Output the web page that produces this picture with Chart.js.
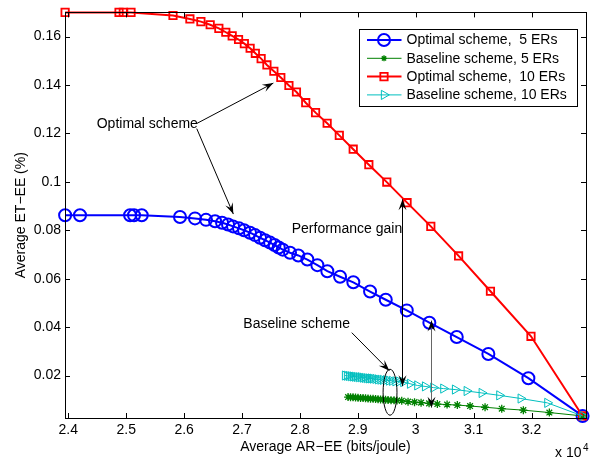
<!DOCTYPE html>
<html><head><meta charset="utf-8">
<script src="https://cdn.jsdelivr.net/npm/chart.js@4.4.1/dist/chart.umd.min.js"></script>
<style>html,body{margin:0;padding:0;background:#fff;} canvas{display:block;}</style>
</head><body>
<canvas id="c" width="597" height="460"></canvas>
<script>
const FONT = '"Liberation Sans", Arial, Helvetica, sans-serif';
const FS = 14;

const xTicks = [2.4, 2.5, 2.6, 2.7, 2.8, 2.9, 3.0, 3.1, 3.2];
const xTickLabels = ['2.4', '2.5', '2.6', '2.7', '2.8', '2.9', '3', '3.1', '3.2'];
const yTicks = [0.02, 0.04, 0.06, 0.08, 0.10, 0.12, 0.14, 0.16];
const yTickLabels = ['0.02', '0.04', '0.06', '0.08', '0.1', '0.12', '0.14', '0.16'];
const xRange = [2.3943, 3.294];
const yRange = [0.00245, 0.17];

const seriesNames = ['Optimal scheme,  5 ERs', 'Baseline scheme, 5 ERs', 'Optimal scheme,  10 ERs', 'Baseline scheme, 10 ERs'];

// Optimal scheme, 5 ERs
const opt5X = [2.3945, 2.4202, 2.5067, 2.5135, 2.5268, 2.5929, 2.6188, 2.6378, 2.6534, 2.6655, 2.6758, 2.6845, 2.6948, 2.7035, 2.7138, 2.7225, 2.7311, 2.7397, 2.7484, 2.7562, 2.7634, 2.7703, 2.7829, 2.7972, 2.8128, 2.8301, 2.8473, 2.8693, 2.8922, 2.9211, 2.9482, 2.9845, 3.0235, 3.0708, 3.1254, 3.1945, 3.2881];
const opt5Y = [0.0862, 0.0862, 0.0862, 0.0862, 0.0862, 0.0855, 0.0849, 0.0843, 0.0837, 0.0831, 0.0824, 0.0816, 0.0808, 0.0800, 0.0790, 0.0780, 0.0769, 0.0759, 0.0749, 0.0739, 0.0729, 0.0720, 0.0707, 0.0696, 0.0679, 0.0656, 0.0631, 0.0608, 0.0585, 0.0547, 0.0513, 0.0469, 0.0418, 0.0359, 0.0289, 0.0189, 0.0033];

// Baseline scheme, 5 ERs
const base5X = [2.8831, 2.8874, 2.8917, 2.8960, 2.9003, 2.9047, 2.9090, 2.9133, 2.9176, 2.9219, 2.9263, 2.9306, 2.9349, 2.9392, 2.9435, 2.9478, 2.9522, 2.9573, 2.9625, 2.9677, 2.9758, 2.9867, 2.9979, 3.0092, 3.0230, 3.0373, 3.0541, 3.0718, 3.0938, 3.1197, 3.1485, 3.1858, 3.2307, 3.2881];
const base5Y = [0.0111, 0.0110, 0.0110, 0.0109, 0.0108, 0.0107, 0.0107, 0.0106, 0.0105, 0.0104, 0.0104, 0.0103, 0.0102, 0.0101, 0.0101, 0.0100, 0.0099, 0.0098, 0.0098, 0.0097, 0.0096, 0.0092, 0.0090, 0.0088, 0.0085, 0.0082, 0.0080, 0.0078, 0.0074, 0.0069, 0.0063, 0.0057, 0.0047, 0.0033];

// Optimal scheme, 10 ERs
const opt10X = [2.3945, 2.4876, 2.4950, 2.5083, 2.5808, 2.6100, 2.6290, 2.6450, 2.6600, 2.6720, 2.6830, 2.6940, 2.7040, 2.7140, 2.7230, 2.7330, 2.7430, 2.7550, 2.7670, 2.7810, 2.7940, 2.8100, 2.8270, 2.8470, 2.8680, 2.8920, 2.9190, 2.9500, 2.9850, 3.0260, 3.0740, 3.1290, 3.1990, 3.2881];
const opt10Y = [0.1700, 0.1700, 0.1700, 0.1700, 0.1687, 0.1673, 0.1662, 0.1649, 0.1634, 0.1618, 0.1603, 0.1588, 0.1571, 0.1552, 0.1531, 0.1509, 0.1483, 0.1457, 0.1431, 0.1398, 0.1371, 0.1327, 0.1286, 0.1242, 0.1192, 0.1135, 0.1071, 0.0999, 0.0914, 0.0816, 0.0694, 0.0548, 0.0362, 0.0033];

// Baseline scheme, 10 ERs
const base10X = [2.8779, 2.8813, 2.8848, 2.8883, 2.8917, 2.8952, 2.8986, 2.9021, 2.9055, 2.9090, 2.9124, 2.9159, 2.9194, 2.9228, 2.9263, 2.9306, 2.9349, 2.9392, 2.9435, 2.9487, 2.9539, 2.9591, 2.9651, 2.9712, 2.9786, 2.9902, 3.0028, 3.0161, 3.0304, 3.0477, 3.0679, 3.0881, 3.1140, 3.1444, 3.1813, 3.2273, 3.2881];
const base10Y = [0.0200, 0.0199, 0.0198, 0.0197, 0.0196, 0.0195, 0.0194, 0.0193, 0.0193, 0.0191, 0.0190, 0.0189, 0.0188, 0.0188, 0.0187, 0.0186, 0.0184, 0.0183, 0.0182, 0.0181, 0.0179, 0.0178, 0.0176, 0.0175, 0.0173, 0.0166, 0.0159, 0.0155, 0.0150, 0.0146, 0.0142, 0.0136, 0.0128, 0.0118, 0.0105, 0.0087, 0.0033];

// annotation anchors (data coordinates)
const optTextPos = [2.4491, 0.1237];
const optArrows = [[2.6218, 0.1241, 2.7541, 0.1408], [2.6218, 0.1220, 2.6850, 0.0867]];
const gainTextPos = [2.7858, 0.0805];
const gainArrows = [[2.9758, 0.0928, 0.0156, '#000'], [3.0264, 0.0427, 0.0067, '#666']];
const baseTextPos = [2.7022, 0.0411];
const baseArrow = [2.8895, 0.0377, 2.9544, 0.0220];
const ellipseAt = [2.9556, 0.0131, 0.0120, 0.0095];

const BLUE = '#0000ff', GREEN = '#008000', RED = '#ff0000', CYAN = '#00bfbf';

function pts(xs, ys) { return xs.map((x, i) => ({x: x, y: ys[i]})); }

const styles = [
  {color: BLUE, lw: 2, style: 'circle', r: 6, pbw: 2},
  {color: GREEN, lw: 1, style: 'star', r: 4, pbw: 1.3},
  {color: RED, lw: 2, style: 'rect', r: 5.2, pbw: 1.8},
  {color: CYAN, lw: 1, style: 'triangle', r: 5.3, pbw: 1, rot: 90}
];
const allData = [pts(opt5X, opt5Y), pts(base5X, base5Y), pts(opt10X, opt10Y), pts(base10X, base10Y)];
const orders = [3, 2, 1, 0];

const datasets = allData.map((d, i) => ({
  label: seriesNames[i],
  data: d,
  borderColor: styles[i].color,
  borderWidth: styles[i].lw,
  pointStyle: styles[i].style,
  pointRadius: styles[i].r,
  pointBorderWidth: styles[i].pbw,
  pointBorderColor: styles[i].color,
  pointBackgroundColor: 'rgba(0,0,0,0)',
  pointRotation: styles[i].rot || 0,
  fill: false,
  tension: 0,
  clip: false,
  order: orders[i]
}));

function arrowHead(ctx, x1, y1, x2, y2, len, w) {
  const dx = x2 - x1, dy = y2 - y1;
  const L = Math.hypot(dx, dy) || 1;
  const ux = dx / L, uy = dy / L, nx = -uy, ny = ux;
  ctx.beginPath();
  ctx.moveTo(x2, y2);
  ctx.lineTo(x2 - len * ux + w * nx, y2 - len * uy + w * ny);
  ctx.lineTo(x2 - 0.6 * len * ux, y2 - 0.6 * len * uy);
  ctx.lineTo(x2 - len * ux - w * nx, y2 - len * uy - w * ny);
  ctx.closePath();
  ctx.fill();
}
function arrow(ctx, x1, y1, x2, y2, color) {
  ctx.strokeStyle = color || '#000';
  ctx.lineWidth = 1;
  ctx.beginPath(); ctx.moveTo(x1, y1); ctx.lineTo(x2, y2); ctx.stroke();
  ctx.fillStyle = '#000';
  arrowHead(ctx, x1, y1, x2, y2, 11, 4);
}

function marker(ctx, style, x, y, r, color, bw) {
  ctx.save();
  ctx.strokeStyle = color; ctx.lineWidth = bw;
  ctx.beginPath();
  if (style === 'circle') {
    ctx.arc(x, y, r, 0, Math.PI * 2);
  } else if (style === 'rect') {
    const s = Math.SQRT1_2 * r;
    ctx.rect(x - s, y - s, 2 * s, 2 * s);
  } else if (style === 'star') {
    for (let k = 0; k < 4; k++) {
      const a = k * Math.PI / 4;
      ctx.moveTo(x - r * Math.cos(a), y - r * Math.sin(a));
      ctx.lineTo(x + r * Math.cos(a), y + r * Math.sin(a));
    }
  } else if (style === 'triangle') {
    const w = r * Math.sqrt(3) / 2;
    ctx.moveTo(x + r, y);
    ctx.lineTo(x - r / 2, y - w);
    ctx.lineTo(x - r / 2, y + w);
    ctx.closePath();
  }
  ctx.stroke();
  ctx.restore();
}

const decor = {
  id: 'decor',
  afterDraw(chart) {
    const ctx = chart.ctx, a = chart.chartArea;
    const xs = chart.scales.x, ys = chart.scales.y;
    const X = v => xs.getPixelForValue(v), Y = v => ys.getPixelForValue(v);
    ctx.save();
    // axes box
    ctx.strokeStyle = '#000'; ctx.lineWidth = 1;
    ctx.strokeRect(Math.round(a.left) + 0.5, Math.round(a.top) + 0.5, Math.round(a.right - a.left), Math.round(a.bottom - a.top));
    // inner ticks
    const tl = 5;
    ctx.beginPath();
    xTicks.forEach(v => {
      const p = Math.round(X(v)) + 0.5;
      ctx.moveTo(p, a.bottom); ctx.lineTo(p, a.bottom - tl);
      ctx.moveTo(p, a.top); ctx.lineTo(p, a.top + tl);
    });
    yTicks.forEach(v => {
      const p = Math.round(Y(v)) + 0.5;
      ctx.moveTo(a.left, p); ctx.lineTo(a.left + tl, p);
      ctx.moveTo(a.right, p); ctx.lineTo(a.right - tl, p);
    });
    ctx.stroke();

    // annotations
    ctx.fillStyle = '#000';
    ctx.font = FS + 'px ' + FONT;
    ctx.textBaseline = 'middle'; ctx.textAlign = 'left';
    ctx.fillText('Optimal scheme', X(optTextPos[0]), Y(optTextPos[1]));
    optArrows.forEach(r => arrow(ctx, X(r[0]), Y(r[1]), X(r[2]), Y(r[3])));
    ctx.fillStyle = '#000';
    ctx.fillText('Performance gain', X(gainTextPos[0]), Y(gainTextPos[1]));
    gainArrows.forEach(r => {
      const x = Math.round(X(r[0])) + 0.5, y1 = Y(r[1]), y2 = Y(r[2]);
      ctx.strokeStyle = r[3]; ctx.lineWidth = 1;
      ctx.beginPath(); ctx.moveTo(x, y1); ctx.lineTo(x, y2); ctx.stroke();
      ctx.fillStyle = '#000';
      arrowHead(ctx, x, y2, x, y1, 11, 4);
      arrowHead(ctx, x, y1, x, y2, 11, 4);
    });
    ctx.fillStyle = '#000';
    ctx.fillText('Baseline scheme', X(baseTextPos[0]), Y(baseTextPos[1]));
    arrow(ctx, X(baseArrow[0]), Y(baseArrow[1]), X(baseArrow[2]), Y(baseArrow[3]));
    ctx.strokeStyle = '#000'; ctx.lineWidth = 1;
    ctx.beginPath();
    const ecx = X(ellipseAt[0]), ecy = Y(ellipseAt[1]);
    ctx.ellipse(ecx, ecy, X(ellipseAt[0] + ellipseAt[2]) - ecx, ecy - Y(ellipseAt[1] + ellipseAt[3]), 0, 0, Math.PI * 2);
    ctx.stroke();

    // legend
    const lw = 218, lh = 77;
    const lx = Math.round(a.right - 9 - lw), ly = Math.round(a.top + 16.5);
    ctx.fillStyle = '#fff';
    ctx.fillRect(lx, ly, lw, lh);
    ctx.strokeStyle = '#000'; ctx.lineWidth = 1;
    ctx.strokeRect(lx + 0.5, ly + 0.5, lw, lh);
    seriesNames.forEach((name, i) => {
      const yy = ly + 11 + i * 18.3;
      const st = styles[i];
      ctx.strokeStyle = st.color; ctx.lineWidth = st.lw;
      ctx.beginPath(); ctx.moveTo(lx + 8, yy); ctx.lineTo(lx + 42.5, yy); ctx.stroke();
      marker(ctx, st.style, lx + 25, yy, i === 1 ? 3 : st.r, st.color, st.pbw);
      ctx.fillStyle = '#000';
      ctx.font = FS + 'px ' + FONT;
      ctx.textAlign = 'left'; ctx.textBaseline = 'middle';
      ctx.fillText(name, lx + 47.5, yy + 0.5);
    });

    // axis titles
    ctx.fillStyle = '#000';
    ctx.font = FS + 'px ' + FONT;
    ctx.textAlign = 'center'; ctx.textBaseline = 'middle';
    ctx.fillText('Average AR\u2212EE (bits/joule)', (a.left + a.right) / 2, a.bottom + 29);
    ctx.save();
    ctx.translate(21, (a.top + a.bottom) / 2);
    ctx.rotate(-Math.PI / 2);
    ctx.fillText('Average ET\u2212EE (%)', 0, 0);
    ctx.restore();
    // exponent
    ctx.textAlign = 'left';
    ctx.fillText('x 10', a.right - 31, a.bottom + 35);
    ctx.font = '10px ' + FONT;
    ctx.fillText('4', a.right - 3, a.bottom + 30);
    ctx.restore();
  }
};

new Chart(document.getElementById('c'), {
  type: 'line',
  data: {datasets: datasets},
  options: {
    responsive: false,
    animation: false,
    devicePixelRatio: 1,
    layout: {padding: {left: 0, right: 11, top: 7.5, bottom: 0}},
    plugins: {legend: {display: false}, tooltip: {enabled: false}},
    scales: {
      x: {
        type: 'linear', min: xRange[0], max: xRange[1],
        afterBuildTicks: s => { s.ticks = xTicks.map(v => ({value: v})); },
        afterFit: s => { s.height = 42; },
        grid: {display: false, drawTicks: false}, border: {display: false},
        ticks: {
          autoSkip: false, maxRotation: 0, padding: 4, color: '#000',
          font: {family: FONT, size: FS},
          callback: v => { const i = xTicks.findIndex(t => Math.abs(t - v) < 1e-6); return i >= 0 ? xTickLabels[i] : ''; }
        }
      },
      y: {
        type: 'linear', min: yRange[0], max: yRange[1],
        afterBuildTicks: s => { s.ticks = yTicks.map(v => ({value: v})); },
        afterFit: s => { s.width = 65; },
        grid: {display: false, drawTicks: false}, border: {display: false},
        ticks: {
          autoSkip: false, padding: 4, color: '#000',
          font: {family: FONT, size: FS},
          callback: v => { const i = yTicks.findIndex(t => Math.abs(t - v) < 1e-6); return i >= 0 ? yTickLabels[i] : ''; }
        }
      }
    }
  },
  plugins: [decor]
});
</script>
</body></html>
